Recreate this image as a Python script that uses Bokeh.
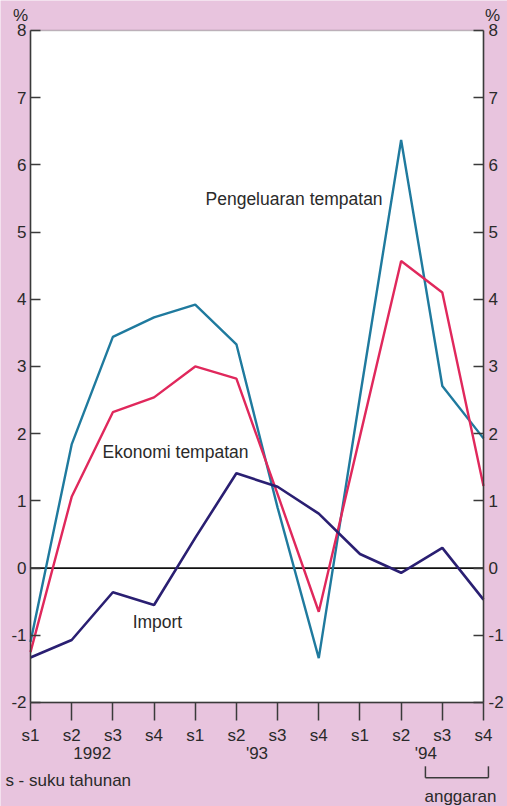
from bokeh.plotting import figure
from bokeh.models import (Range1d, LinearAxis, FixedTicker, Label, Arrow,
                          BoxAnnotation, ColumnDataSource)
from bokeh.embed import file_html
from bokeh.resources import INLINE

# ---- data ----
quarters = ["s1", "s2", "s3", "s4", "s1", "s2", "s3", "s4", "s1", "s2", "s3", "s4"]
year_labels = ["1992", "'93", "'94"]
year_positions = [1.5, 5.5, 9.6]
pengeluaran = [-1.1, 1.84, 3.44, 3.73, 3.92, 3.33, 0.9, -1.34, 2.55, 6.37, 2.71, 1.93]
ekonomi = [-1.25, 1.06, 2.32, 2.54, 3.0, 2.82, 1.1, -0.65, 1.96, 4.57, 4.10, 1.22]
import_ = [-1.33, -1.07, -0.36, -0.55, 0.45, 1.41, 1.21, 0.81, 0.21, -0.07, 0.30, -0.47]
y_ticks = [-2, -1, 0, 1, 2, 3, 4, 5, 6, 7, 8]
y_tick_labels = ["-2", "-1", "0", "1", "2", "3", "4", "5", "6", "7", "8"]

FONT = "Liberation Sans"
TXT = "#2a2a2a"
PINK = "#e8c4de"
AX = "#3a3a3a"

X0, X1 = 0, len(quarters) - 1
Y0, Y1 = -2, 8

idx = list(range(len(quarters)))
src = ColumnDataSource(dict(x=idx, peng=pengeluaran, eko=ekonomi, imp=import_))

p = figure(width=507, height=806, x_range=Range1d(-0.7285, 11.583),
           y_range=Range1d(-3.548, 8.446),
           output_backend="svg", toolbar_location=None,
           x_axis_location=None, y_axis_location=None,
           min_border=0)
p.grid.visible = False
p.border_fill_color = PINK
p.background_fill_color = PINK
p.outline_line_color = None

# white plotting area
p.add_layout(BoxAnnotation(left=X0, right=X1, bottom=Y0, top=Y1, fill_color="white",
                           fill_alpha=1.0, line_color=AX, line_width=1.5,
                           level="underlay"))
# zero line
p.add_layout(Arrow(x_start=X0, y_start=0, x_end=X1, y_end=0, start=None, end=None,
                   line_color="#111111", line_width=1.8, level="underlay"))


def yaxis(loc):
    a = LinearAxis(ticker=FixedTicker(ticks=y_ticks), fixed_location=loc, bounds=(Y0, Y1),
                   major_label_overrides={t: s for t, s in zip(y_ticks, y_tick_labels)})
    a.major_tick_in = 10
    a.major_tick_out = 0
    a.minor_tick_line_color = None
    a.major_tick_line_color = AX
    a.major_tick_line_width = 1.5
    a.axis_line_color = AX
    a.axis_line_width = 1.5
    a.major_label_standoff = 4
    a.major_label_text_font = FONT
    a.major_label_text_font_size = "17px"
    a.major_label_text_color = TXT
    return a


la = yaxis(X0)
ra = yaxis(X1)
ra.major_label_standoff = 5
p.add_layout(la, "left")
p.add_layout(ra, "right")

xa = LinearAxis(ticker=FixedTicker(ticks=idx), fixed_location=Y0, bounds=(X0, X1),
                major_label_overrides={i: q for i, q in zip(idx, quarters)})
xa.major_tick_in = 0
xa.major_tick_out = 18
xa.minor_tick_line_color = None
xa.major_tick_line_color = AX
xa.major_tick_line_width = 1.5
xa.axis_line_color = AX
xa.axis_line_width = 1.5
xa.major_label_standoff = 6
xa.major_label_text_font = FONT
xa.major_label_text_font_size = "17px"
xa.major_label_text_color = TXT
p.add_layout(xa, "below")

ya = LinearAxis(ticker=FixedTicker(ticks=year_positions), fixed_location=Y0,
                major_label_overrides={v: t for v, t in zip(year_positions, year_labels)})
ya.axis_line_color = None
ya.major_tick_line_color = None
ya.minor_tick_line_color = None
ya.major_tick_in = 0
ya.major_tick_out = 0
ya.major_label_standoff = 42
ya.major_label_text_font = FONT
ya.major_label_text_font_size = "17px"
ya.major_label_text_color = TXT
p.add_layout(ya, "below")

p.line("x", "peng", source=src, line_color="#1f7a9e", line_width=2.4)
p.line("x", "eko", source=src, line_color="#e0285c", line_width=2.4)
p.line("x", "imp", source=src, line_color="#2a1f72", line_width=2.6)


def lab(x, y, t, align="left", size="17.5px"):
    p.add_layout(Label(x=x, y=y, text=t, text_font=FONT, text_font_size=size,
                       text_color=TXT, text_align=align, text_baseline="middle"))


lab(4.25, 5.49, "Pengeluaran tempatan")
lab(1.75, 1.72, "Ekonomi tempatan")
lab(2.48, -0.8, "Import")
lab(-0.24, 8.22, "%", align="center", size="17px")
lab(11.22, 8.22, "%", align="center", size="17px")
lab(-0.61, -3.16, "s - suku tahunan", size="17px")
lab(10.44, -3.4, "anggaran", align="center", size="17px")

for xs, ys, xe, ye in [(9.59, -2.95, 9.59, -3.12), (9.59, -3.12, 11.12, -3.12),
                       (11.12, -3.12, 11.12, -2.95)]:
    p.add_layout(Arrow(x_start=xs, y_start=ys, x_end=xe, y_end=ye, start=None, end=None,
                       line_color=AX, line_width=1.5))

open("out.html", "w").write(file_html(p, INLINE))
